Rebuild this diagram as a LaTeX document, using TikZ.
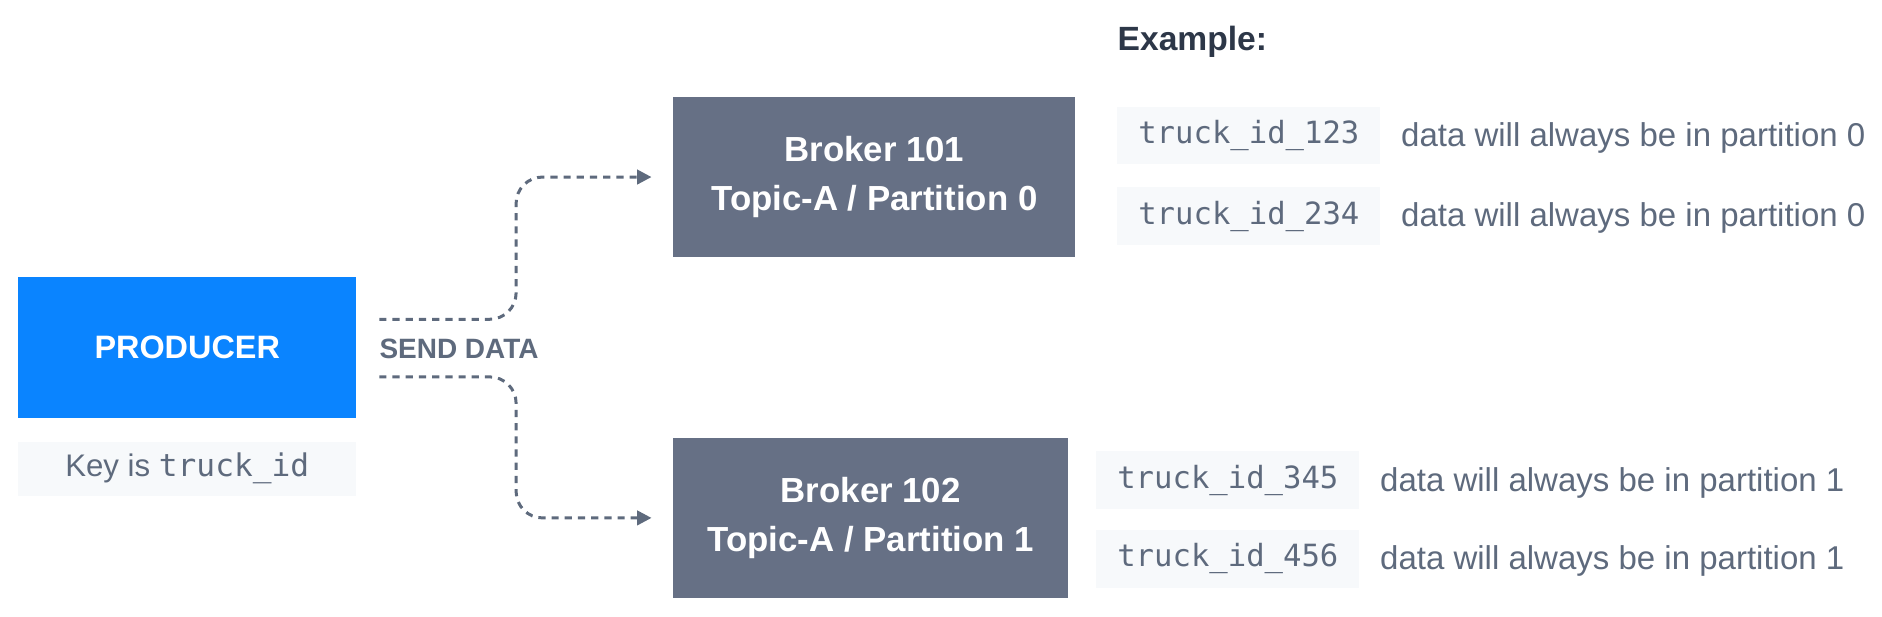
\documentclass[tikz,border=0pt]{standalone}
\usepackage{fontspec}
\setmainfont{Liberation Sans}
\setmonofont{DejaVu Sans Mono}
\usetikzlibrary{positioning,arrows.meta}
\definecolor{prodblue}{HTML}{0A84FF}
\definecolor{brokergray}{HTML}{667085}
\definecolor{labelgray}{HTML}{5E6A7D}
\definecolor{headdark}{HTML}{2D3748}
\definecolor{lightbg}{HTML}{F7F9FB}
\begin{document}
\begin{tikzpicture}[x = 1pt, y = -1pt,
    producer/.style = {fill = prodblue, text = white, minimum width = 282pt, minimum height = 117pt,
        font = \bfseries\fontsize{27}{27}\selectfont},
    keybox/.style = {fill = lightbg, text = labelgray, minimum width = 282pt, minimum height = 45pt,
        font = \fontsize{26}{26}\selectfont},
    broker/.style = {fill = brokergray, text = white, minimum height = 133pt, align = center,
        font = \bfseries\fontsize{29}{41}\selectfont},
    idbox/.style = {fill = lightbg, text = labelgray, minimum width = 219pt, minimum height = 48pt,
        font = \ttfamily\fontsize{25.5}{26}\selectfont},
    desc/.style = {text = labelgray, inner sep = 0pt, yshift = -2pt, font = \fontsize{27.5}{28}\selectfont},
    flow/.style = {draw = labelgray, line width = 2.5pt, dash pattern = on 6pt off 5pt,
        rounded corners = 22pt, -{Triangle[length = 12pt, width = 12pt]}}]
    \useasboundingbox (0,0) rectangle (1568,514);
    \node[producer] (prod) at (156,289.5) {PRODUCER};
    \node[keybox] (key) at (156,390.5) {Key is \texttt{truck\_id}};
    \node[anchor = west, inner sep = 0pt, text = labelgray, font = \bfseries\fontsize{23.3}{24}\selectfont]
        (send) at (316,291) {SEND DATA};
    \node[broker, minimum width = 335pt] (b1) at (728.5,147.5) {Broker 101\\Topic-A / Partition 0};
    \node[broker, minimum width = 329pt] (b2) at (725.5,431.5) {Broker 102\\Topic-A / Partition 1};
    \coordinate (split) at (430,289.5);
    \coordinate (s1) at ([yshift = 25pt]send.west);
    \coordinate (s2) at ([yshift = -23pt]send.west);
    \coordinate (t1) at ([xshift = -18pt]b1.west);
    \coordinate (t2) at ([xshift = -18pt]b2.west);
    \draw[flow] (s1) -- (s1 -| split) |- (t1);
    \draw[flow] (s2) -- (s2 -| split) |- (t2);
    \node[anchor = west, inner sep = 0pt, text = headdark, font = \bfseries\fontsize{28}{28}\selectfont]
        (example) at (931,35) {Example:};
    \node[idbox] (id1) at (1040.5,113) {truck\_id\_123};
    \node[desc, right = 17pt of id1] (d1) {data will always be in partition 0};
    \node[idbox] (id2) at (1040.5,180) {truck\_id\_234};
    \node[desc, right = 17pt of id2] (d2) {data will always be in partition 0};
    \node[idbox] (id3) at (1023,400) {truck\_id\_345};
    \node[desc, right = 17pt of id3] (d3) {data will always be in partition 1};
    \node[idbox] (id4) at (1023,465.5) {truck\_id\_456};
    \node[desc, right = 17pt of id4] (d4) {data will always be in partition 1};
\end{tikzpicture}
\end{document}
